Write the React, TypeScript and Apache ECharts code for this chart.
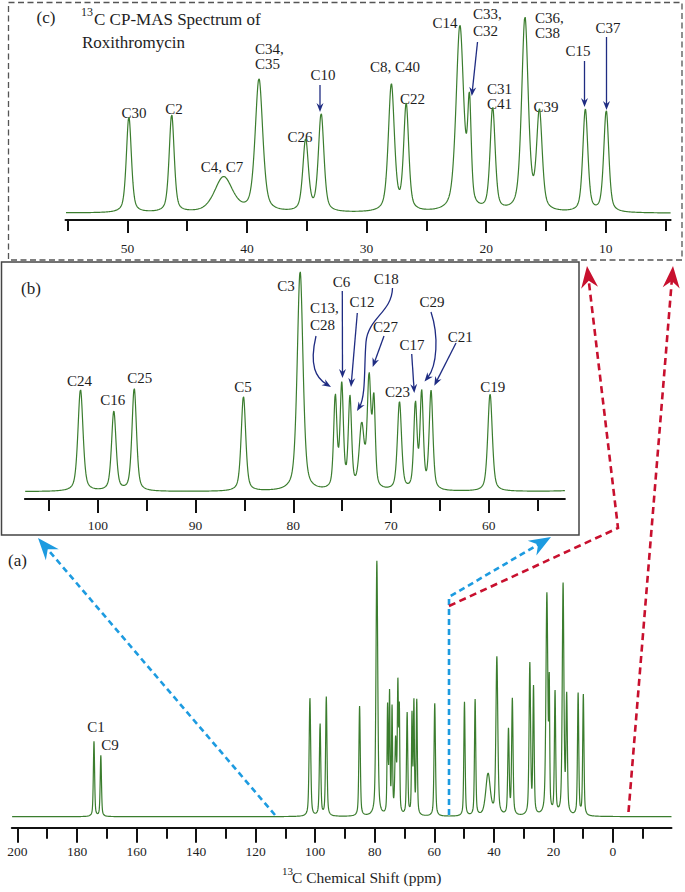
import React, { useEffect, useRef } from "react";
import * as echarts from "echarts";

// ---------------- data ----------------
// Resolved resonances: chemical shift (ppm), peak intensity (arbitrary units), line width (FWHM, ppm)
const peakNames = ["C1", "C9", "C24", "C16", "C25", "C5", "C3", "C13/C28", "C6", "C12", "C18", "C27", "C27b", "C23", "C17", "C29", "C21", "C19", "C30", "C2", "C4/C7", "C34/C35", "C26", "C10", "C8/C40", "C22", "C14", "C33/C32", "C31/C41", "C36/C38", "C39", "C15", "C37"];
const peakShift = [174.3, 172.0, 101.78, 98.37, 96.28, 85.1, 79.3, 75.7, 75.04, 74.2, 73.0, 72.24, 71.75, 69.13, 67.5, 66.86, 65.9, 59.86, 49.88, 46.3, 41.96, 39.0, 35.1, 33.8, 27.93, 26.69, 22.2, 21.4, 19.46, 16.76, 15.55, 11.71, 9.96];
const peakHeight = [75, 61, 118, 92, 119, 110, 255, 106, 118, 104, 72, 126, 98, 102, 98, 110, 114, 113, 114, 116, 42, 158, 85, 116, 151, 126, 220, 118, 122, 230, 116, 122, 121];
const peakWidth = [0.5, 0.5, 0.62, 0.55, 0.55, 0.55, 0.7, 0.4, 0.4, 0.4, 0.6, 0.45, 0.35, 0.5, 0.4, 0.4, 0.45, 0.55, 0.5, 0.5, 1.8, 0.75, 0.55, 0.55, 0.6, 0.5, 0.75, 0.35, 0.5, 0.65, 0.55, 0.5, 0.5];

// axis ticks
const majorTicksA = [200, 180, 160, 140, 120, 100, 80, 60, 40, 20, 0];
const minorTicksA = [190, 170, 150, 130, 110, 90, 70, 50, 30, 10, -10];
const majorTicksB = [100, 90, 80, 70, 60];
const minorTicksB = [105, 95, 85, 75, 65, 55];
const majorTicksC = [50, 40, 30, 20, 10];
const minorTicksC = [55, 45, 35, 25, 15, 5];

// axis ranges (ppm)
const rangeA = [-19.65, 201.9];
const rangeB = [52.2, 107.47];
const rangeC = [4.58, 55.18];

// ---------------- spectrum from the peak list ----------------
function intensity(x: number): number {
  let s = 0;
  for (let i = 0; i < peakShift.length; i++) {
    const d = (x - peakShift[i]) / peakWidth[i];
    s += peakHeight[i] * (0.5 / (1 + 4 * d * d) + 0.5 * Math.exp(-2.7726 * d * d));
  }
  return s;
}
function sample(lo: number, hi: number, step: number): number[][] {
  const xs: number[] = [];
  for (let x = lo; x <= hi; x += step) xs.push(x);
  peakShift.forEach((p) => { if (p > lo && p < hi) xs.push(p); });
  xs.sort((a, b) => a - b);
  return xs.map((x) => [x, intensity(x)]);
}

const SERIF = '"Liberation Serif", "Times New Roman", "DejaVu Serif", serif';
const INK = "#1e1e1e";
const GREEN = "#3b7d2e";
const NAVY = "#1f2c82";
const BLUE = "#1d9be0";
const RED = "#c8102e";
const LBL = 15;

function txt(x: number, y: number, text: string, size = LBL, align = "center"): any {
  return {
    type: "text", x, y, silent: true,
    style: { text, fontSize: size, fontFamily: SERIF, fill: INK, align, verticalAlign: "middle", textAlign: align, textVerticalAlign: "middle" },
  };
}
function head(tx: number, ty: number, dx: number, dy: number, len: number, wid: number, color: string): any {
  const m = Math.hypot(dx, dy);
  const ux = dx / m, uy = dy / m, px = -uy, py = ux;
  const bx = tx - ux * len, by = ty - uy * len;
  const nx = tx - ux * len * 0.68, ny = ty - uy * len * 0.68;
  return {
    type: "polygon", silent: true,
    shape: { points: [[tx, ty], [bx + (px * wid) / 2, by + (py * wid) / 2], [nx, ny], [bx - (px * wid) / 2, by - (py * wid) / 2]] },
    style: { fill: color },
  };
}
function back(tx: number, ty: number, dx: number, dy: number, d: number): number[] {
  const m = Math.hypot(dx, dy);
  return [tx - (dx / m) * d, ty - (dy / m) * d];
}
// straight arrow
function arrow(x1: number, y1: number, x2: number, y2: number, color = NAVY, len = 9, wid = 7, lw = 1.3, dash?: number[]): any[] {
  const dx = x2 - x1, dy = y2 - y1;
  const e = back(x2, y2, dx, dy, len * 0.6);
  return [
    { type: "line", silent: true, shape: { x1, y1, x2: e[0], y2: e[1] }, style: { stroke: color, lineWidth: lw, lineDash: dash } },
    head(x2, y2, dx, dy, len, wid, color),
  ];
}
// curved arrow (cubic bezier)
function curve(x1: number, y1: number, c1x: number, c1y: number, c2x: number, c2y: number, x2: number, y2: number): any[] {
  const dx = x2 - c2x, dy = y2 - c2y;
  const e = back(x2, y2, dx, dy, 5);
  return [
    { type: "bezierCurve", silent: true, shape: { x1, y1, cpx1: c1x, cpy1: c1y, cpx2: c2x, cpy2: c2y, x2: e[0], y2: e[1] }, style: { stroke: NAVY, lineWidth: 1.3, fill: null } },
    head(x2, y2, dx, dy, 9, 7, NAVY),
  ];
}

function buildGraphics(): any[] {
  const g: any[] = [];
  // panel frames
  g.push({ type: "rect", silent: true, shape: { x: 8.5, y: 2.5, width: 673.5, height: 257.5 }, style: { fill: "none", stroke: "#555", lineWidth: 1.3, lineDash: [6, 3.5] } });
  g.push({ type: "rect", silent: true, shape: { x: 1.5, y: 262, width: 577.5, height: 273 }, style: { fill: "none", stroke: "#444", lineWidth: 1.5 } });

  // panel (c) title
  g.push(txt(46, 17, "(c)", 17));
  g.push(txt(81, 12, "13", 12, "left"));
  g.push(txt(94, 19, "C CP-MAS Spectrum of", 17, "left"));
  g.push(txt(82, 42, "Roxithromycin", 17, "left"));

  // panel (c) peak labels
  const cl: [string, number, number, string?][] = [
    ["C30", 134, 113], ["C2", 174, 109], ["C4, C7", 222, 167],
    ["C34,", 255, 49, "left"], ["C35", 255, 64, "left"], ["C26", 300, 137], ["C10", 323, 75],
    ["C8, C40", 395, 67], ["C22", 412.5, 99], ["C14", 445, 23],
    ["C33,", 473, 14, "left"], ["C32", 473, 31, "left"], ["C31", 487, 89, "left"], ["C41", 487, 104, "left"],
    ["C36,", 535, 18, "left"], ["C38", 535, 33, "left"], ["C39", 546, 107], ["C15", 578, 51], ["C37", 608, 28],
  ];
  cl.forEach((l) => g.push(txt(l[1], l[2], l[0], LBL, l[3] || "center")));
  g.push(...arrow(320, 85, 320, 112));
  g.push(...arrow(477.5, 42, 471.8, 96));
  g.push(...arrow(584.5, 61, 584.5, 107));
  g.push(...arrow(606.5, 37, 606.5, 110));

  // panel (b)
  g.push(txt(31, 288, "(b)", 17));
  const bl: [string, number, number, string?][] = [
    ["C24", 79.5, 381], ["C16", 112.8, 400], ["C25", 139.8, 378], ["C5", 243, 387], ["C3", 286, 286],
    ["C13,", 310, 308, "left"], ["C28", 310, 325, "left"], ["C6", 341.6, 282], ["C12", 362, 302],
    ["C18", 386.3, 279], ["C27", 385.5, 327], ["C23", 397.5, 392], ["C17", 412, 345], ["C29", 432, 302],
    ["C21", 460.3, 337], ["C19", 492.8, 387],
  ];
  bl.forEach((l) => g.push(txt(l[1], l[2], l[0], LBL, l[3] || "center")));
  g.push(...curve(316, 336, 309, 366, 316, 378, 331, 387));
  g.push(...arrow(342.3, 291, 342.5, 378));
  g.push(...arrow(357.3, 313, 351, 387));
  g.push({ type: "bezierCurve", silent: true, shape: { x1: 392.5, y1: 288, cpx1: 392, cpy1: 312, cpx2: 368, cpy2: 318, x2: 366, y2: 342 }, style: { stroke: NAVY, lineWidth: 1.3, fill: null } });
  g.push(...curve(366, 342, 364, 365, 366, 396, 357, 411));
  g.push(...arrow(384, 336, 372.7, 367));
  g.push(...arrow(411.7, 354, 414.3, 393));
  g.push(...curve(431, 312, 439, 336, 437, 366, 424.5, 381.5));
  g.push(...arrow(456, 343, 434.3, 385.7));

  // panel (a)
  g.push(txt(17.5, 560, "(a)", 17));
  g.push(txt(96, 727, "C1", LBL));
  g.push(txt(110, 745, "C9", LBL));
  g.push(txt(282, 871, "13", 11, "left"));
  g.push(txt(292, 877, "C Chemical Shift (ppm)", 15.5, "left"));

  // zoom arrows (blue / red dashed)
  const dashB = [6, 4];
  const dashR = [7, 4.5];
  g.push(...arrow(275, 815, 38, 538, BLUE, 22, 17, 2.6, dashB));
  g.push({ type: "polyline", silent: true, shape: { points: [[449, 815], [449, 597], back(551, 537, 102, -60, 14)] }, style: { stroke: BLUE, lineWidth: 2.6, lineDash: dashB, fill: null } });
  g.push(head(551, 537, 102, -60, 22, 17, BLUE));
  g.push({ type: "polyline", silent: true, shape: { points: [[449, 606], [618, 528], back(587, 266, -31, -262, 14)] }, style: { stroke: RED, lineWidth: 2.6, lineDash: dashR, fill: null } });
  g.push(head(587, 266, -31, -262, 22, 17, RED));
  g.push(...arrow(628.5, 812, 673, 266, RED, 22, 17, 2.6, dashR));
  return g;
}

function xAxisPair(grid: number, range: number[], major: number[], minor: number[], majorLen: number, minorLen: number, margin: number): any[] {
  const base = { type: "value", gridIndex: grid, min: range[0], max: range[1], inverse: true, position: "bottom", splitLine: { show: false } };
  return [
    {
      ...base,
      axisLine: { show: true, onZero: false, lineStyle: { color: "#111", width: 2 } },
      axisTick: { show: true, inside: false, length: majorLen, customValues: major, lineStyle: { color: "#111", width: 2 } },
      axisLabel: { show: true, customValues: major, margin, fontSize: 13.5, fontFamily: SERIF, color: INK },
    },
    {
      ...base,
      axisLine: { show: false, onZero: false },
      axisTick: { show: true, inside: false, length: minorLen, customValues: minor, lineStyle: { color: "#111", width: 2 } },
      axisLabel: { show: false },
    },
  ];
}

export default function App() {
  const ref = useRef<HTMLDivElement>(null);
  useEffect(() => {
    document.body.style.margin = "0";
    if (!ref.current) return;
    const chart = echarts.init(ref.current, null, { renderer: "svg" });
    const dataA = sample(rangeA[0], rangeA[1], 0.05);
    const dataB = sample(rangeB[0], rangeB[1], 0.02);
    const dataC = sample(rangeC[0], rangeC[1], 0.02);
    const axA = xAxisPair(0, rangeA, majorTicksA, minorTicksA, 15, 11, 17);
    const axB = xAxisPair(1, rangeB, majorTicksB, minorTicksB, 14, 12, 19);
    const axC = xAxisPair(2, rangeC, majorTicksC, minorTicksC, 13, 11, 21);
    const lineStyle = { color: GREEN, width: 1.2 };
    chart.setOption({
      animation: false,
      backgroundColor: "#ffffff",
      grid: [
        { left: 11.8, top: 556.7, width: 659.7, height: 271 },
        { left: 24.9, top: 267.7, width: 540, height: 231.3 },
        { left: 65.5, top: 12.7, width: 605.1, height: 207.3 },
      ],
      xAxis: [axA[0], axB[0], axC[0], axA[1], axB[1], axC[1]],
      yAxis: [
        { type: "value", gridIndex: 0, min: -11, max: 260, show: false },
        { type: "value", gridIndex: 1, min: -8.47, max: 260, show: false },
        { type: "value", gridIndex: 2, min: -8, max: 239, show: false },
      ],
      series: [
        { type: "line", xAxisIndex: 0, yAxisIndex: 0, data: dataA, showSymbol: false, symbol: "none", lineStyle, silent: true, clip: true },
        { type: "line", xAxisIndex: 1, yAxisIndex: 1, data: dataB, showSymbol: false, symbol: "none", lineStyle, silent: true, clip: true },
        { type: "line", xAxisIndex: 2, yAxisIndex: 2, data: dataC, showSymbol: false, symbol: "none", lineStyle, silent: true, clip: true },
      ],
      graphic: { elements: buildGraphics() },
    });
    return () => chart.dispose();
  }, []);
  return <div ref={ref} style={{ position: "absolute", left: 0, top: 0, width: 685, height: 892 }} />;
}
